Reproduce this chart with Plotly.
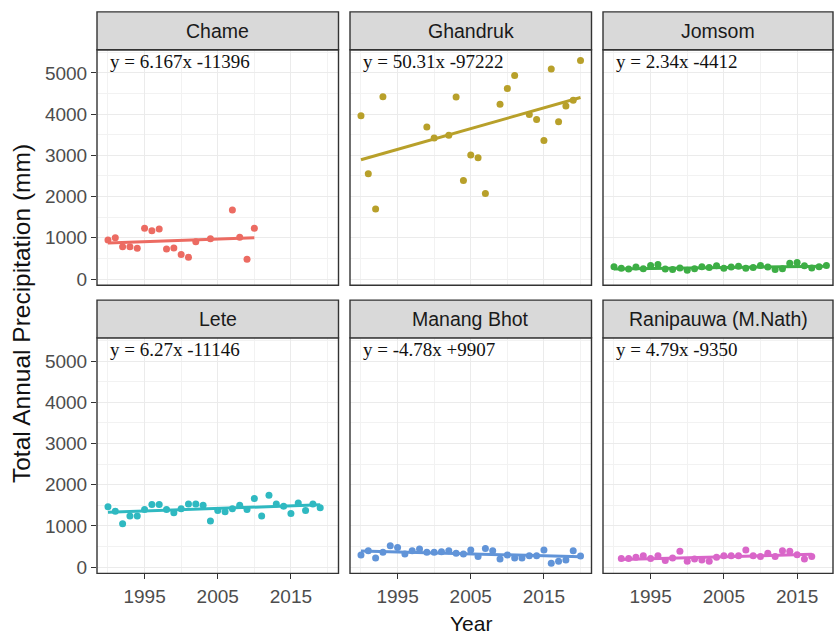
import plotly.graph_objects as go

# ---------------- data ----------------
stations = ["Chame", "Ghandruk", "Jomsom", "Lete", "Manang Bhot", "Ranipauwa (M.Nath)"]
equations = ["y = 6.167x -11396", "y = 50.31x -97222", "y = 2.34x -4412",
             "y = 6.27x -11146", "y = -4.78x +9907", "y = 4.79x -9350"]
slopes = [6.167, 50.31, 2.34, 6.27, -4.78, 4.79]
intercepts = [-11396, -97222, -4412, -11146, 9907, -9350]

chame_years = [1990, 1991, 1992, 1993, 1994, 1995, 1996, 1997, 1998, 1999, 2000, 2001, 2002, 2004, 2007, 2008, 2009, 2010]
chame_vals = [944, 1000, 784, 784, 744, 1232, 1168, 1216, 728, 752, 592, 528, 904, 976, 1672, 1016, 480, 1232]

ghandruk_years = [1990, 1991, 1992, 1993, 1999, 2000, 2002, 2003, 2004, 2005, 2006, 2007, 2009, 2010, 2011,
                  2013, 2014, 2015, 2016, 2017, 2018, 2019, 2020]
ghandruk_vals = [3960, 2552, 1696, 4424, 3688, 3424, 3488, 4416, 2392, 3008, 2944, 2072, 4240, 4624, 4936,
                 3992, 3872, 3360, 5096, 3816, 4200, 4336, 5304]

jomsom_years = [1990, 1991, 1992, 1993, 1994, 1995, 1996, 1997, 1998, 1999, 2000, 2001, 2002, 2003, 2004,
                2005, 2006, 2007, 2008, 2009, 2010, 2011, 2012, 2013, 2014, 2015, 2016, 2017, 2018, 2019]
jomsom_vals = [300, 260, 240, 290, 250, 330, 350, 240, 230, 270, 210, 250, 300, 280, 320,
               260, 290, 310, 260, 280, 330, 290, 230, 250, 380, 400, 320, 270, 300, 330]

lete_years = [1990, 1991, 1992, 1993, 1994, 1995, 1996, 1997, 1998, 1999, 2000, 2001, 2002, 2003, 2004,
              2005, 2006, 2007, 2008, 2009, 2010, 2011, 2012, 2013, 2014, 2015, 2016, 2017, 2018, 2019]
lete_vals = [1464, 1360, 1056, 1240, 1240, 1400, 1520, 1520, 1400, 1320, 1420, 1536, 1536, 1504, 1120,
             1376, 1344, 1420, 1504, 1400, 1664, 1240, 1744, 1536, 1480, 1304, 1560, 1376, 1536, 1440]

manang_years = [1990, 1991, 1992, 1993, 1994, 1995, 1996, 1997, 1998, 1999, 2000, 2001, 2002, 2003, 2004,
                2005, 2006, 2007, 2008, 2009, 2010, 2011, 2012, 2013, 2014, 2015, 2016, 2017, 2018, 2019, 2020]
manang_vals = [296, 400, 224, 360, 520, 480, 320, 400, 440, 360, 360, 376, 400, 336, 320,
               416, 256, 456, 400, 200, 296, 224, 224, 280, 280, 416, 96, 144, 176, 400, 272]

rani_years = [1991, 1992, 1993, 1994, 1995, 1996, 1997, 1998, 1999, 2000, 2001, 2002, 2003, 2004,
              2005, 2006, 2007, 2008, 2009, 2010, 2011, 2012, 2013, 2014, 2015, 2016, 2017]
rani_vals = [208, 208, 240, 280, 208, 280, 160, 224, 384, 144, 200, 176, 144, 240,
             280, 280, 280, 416, 280, 256, 336, 256, 400, 384, 304, 200, 256]

all_years = [chame_years, ghandruk_years, jomsom_years, lete_years, manang_years, rani_years]
all_vals = [chame_vals, ghandruk_vals, jomsom_vals, lete_vals, manang_vals, rani_vals]
colors = ["#EC6B62", "#B8A02A", "#3DAE45", "#2FB9C1", "#6194D8", "#D966C9"]

y_ticks = [0, 1000, 2000, 3000, 4000, 5000]
x_ticks = [1995, 2005, 2015]

# ---------------- layout geometry (pixels) ----------------
W, H = 835, 634
col_px = [(97, 338.5), (350, 591.5), (603, 833)]
row_px = [(50, 287), (340, 577)]
strip_h = 38
x_ranges = [[1988.5, 2021.5], [1988.5, 2021.5], [1988.5, 2019.9]]
y_range = [-150, 5565]

SANS = "Liberation Sans, Arial"
SERIF = "Liberation Serif, Times New Roman"


def fx(px):
    return px / W


def fy(py):
    return 1 - py / H


fig = go.Figure()
layout = dict(width=W, height=H, margin=dict(l=0, r=0, t=0, b=0),
              paper_bgcolor="white", plot_bgcolor="white", showlegend=False)
shapes = []
annotations = []

for i, name in enumerate(stations):
    r, c = divmod(i, 3)
    ax = "" if i == 0 else str(i + 1)
    xa, ya = "xaxis" + ax, "yaxis" + ax
    x0, x1 = col_px[c]
    y0, y1 = row_px[r]
    layout[xa] = dict(domain=[fx(x0), fx(x1)], range=x_ranges[c], anchor="y" + ax,
                      tickvals=x_ticks, showticklabels=(r == 1), ticks="outside" if r == 1 else "",
                      ticklen=5, tickcolor="#333333", tickwidth=1.3, ticklabelstandoff=1,
                      tickfont=dict(family=SANS, size=19, color="#4d4d4d"),
                      showgrid=True, gridcolor="#ebebeb", gridwidth=1.2,
                      minor=dict(tickvals=[1990, 2000, 2010, 2020], showgrid=True,
                                 gridcolor="#f2f2f2", gridwidth=0.6),
                      zeroline=False, showline=False)
    layout[ya] = dict(domain=[fy(y1), fy(y0)], range=y_range, anchor="x" + ax,
                      tickvals=y_ticks, showticklabels=(c == 0), ticks="outside" if c == 0 else "",
                      ticklen=5, tickcolor="#333333", tickwidth=1.3,
                      tickfont=dict(family=SANS, size=19, color="#4d4d4d"),
                      showgrid=True, gridcolor="#ebebeb", gridwidth=1.2,
                      minor=dict(tickvals=[500, 1500, 2500, 3500, 4500, 5500], showgrid=True,
                                 gridcolor="#f2f2f2", gridwidth=0.6),
                      zeroline=False, showline=False)

    yrs, vals = all_years[i], all_vals[i]
    fig.add_trace(go.Scatter(x=yrs, y=vals, mode="markers", xaxis="x" + ax, yaxis="y" + ax,
                             marker=dict(color=colors[i], size=7), hoverinfo="x+y"))
    lx = [min(yrs), max(yrs)]
    ly = [slopes[i] * v + intercepts[i] for v in lx]
    fig.add_trace(go.Scatter(x=lx, y=ly, mode="lines", xaxis="x" + ax, yaxis="y" + ax,
                             line=dict(color=colors[i], width=3), hoverinfo="skip"))

    # panel border
    shapes.append(dict(type="rect", xref="paper", yref="paper", x0=fx(x0), x1=fx(x1),
                       y0=fy(y1), y1=fy(y0), line=dict(color="#333333", width=1.4),
                       fillcolor="rgba(0,0,0,0)", layer="above"))
    # strip
    shapes.append(dict(type="rect", xref="paper", yref="paper", x0=fx(x0), x1=fx(x1),
                       y0=fy(y0), y1=fy(y0 - strip_h), line=dict(color="#333333", width=1.4),
                       fillcolor="#d9d9d9", layer="above"))
    annotations.append(dict(text=name, xref="paper", yref="paper", x=fx((x0 + x1) / 2),
                            y=fy(y0 - strip_h / 2), xanchor="center", yanchor="middle",
                            showarrow=False,
                            font=dict(family=SANS, size=19.5, color="#1a1a1a")))
    # equation
    annotations.append(dict(text=equations[i], xref="x" + ax, yref="paper", x=1990,
                            y=fy(y0 + 12), xanchor="left", yanchor="middle", showarrow=False,
                            font=dict(family=SERIF, size=19, color="#111111")))

annotations.append(dict(text="Total Annual Precipitation (mm)", xref="paper", yref="paper",
                        x=fx(21), y=fy(316), textangle=-90, showarrow=False,
                        xanchor="center", yanchor="middle",
                        font=dict(family=SANS, size=24.5, color="#111111")))
annotations.append(dict(text="Year", xref="paper", yref="paper", x=fx(471), y=fy(627),
                        showarrow=False, xanchor="center", yanchor="middle",
                        font=dict(family=SANS, size=21, color="#111111")))

layout["shapes"] = shapes
layout["annotations"] = annotations
fig.update_layout(**layout)
fig.write_html("out.html")
